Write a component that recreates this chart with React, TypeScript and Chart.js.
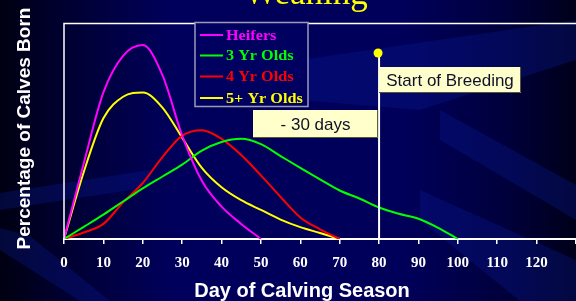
import React, { useEffect, useRef } from 'react';
import { Chart, registerables } from 'chart.js';

Chart.register(...registerables);

// ---- data ----
const days = [0, 5, 10, 15, 20, 25, 30, 35, 40, 45, 50, 55, 60, 65, 70, 75, 80, 85, 90, 95, 100];
const heifers = [0, 3.5, 6.8, 8.5, 9.0, 7.6, 4.8, 2.7, 1.5, 0.7, 0];
const threeYrOlds = [0, 0.56, 1.13, 1.74, 2.35, 2.9, 3.45, 4.1, 4.5, 4.65, 4.4, 3.85, 3.3, 2.77, 2.25, 1.88, 1.46, 1.17, 0.94, 0.52, 0];
const fourYrOlds = [0, 0.3, 0.7, 1.7, 2.6, 3.8, 4.8, 5.05, 4.65, 3.9, 2.95, 1.95, 1.0, 0.45, 0];
const fivePlusYrOlds = [0, 3.1, 5.6, 6.6, 6.8, 6.1, 4.7, 3.3, 2.4, 1.8, 1.35, 0.9, 0.55, 0.28, 0];
const seriesNames = ['Heifers', '3 Yr Olds', '4 Yr Olds', '5+ Yr Olds'];
const seriesColors = ['#ff00ff', '#00ff00', '#ff0000', '#ffff00'];
const xTickLabels = [0, 10, 20, 30, 40, 50, 60, 70, 80, 90, 100, 110, 120];
const titleText = 'Weaning';
const xTitle = 'Day of Calving Season';
const yTitle = 'Percentage of Calves Born';
const breedingDay = 80;
const breedingLabel = 'Start of Breeding';
const offsetLabel = '- 30 days';

const SERIF = '"Liberation Serif", "Times New Roman", serif';
const SANS = '"Liberation Sans", Arial, sans-serif';

const toPoints = (arr: number[]) => arr.map((v, i) => ({ x: days[i], y: v }));

const bgPlugin = {
  id: 'bgPlugin',
  beforeDraw(chart: any) {
    const { ctx, width, height } = chart;
    ctx.save();
    const g = ctx.createLinearGradient(0, 0, width, 0);
    g.addColorStop(0, '#000012');
    g.addColorStop(0.1, '#00002e');
    g.addColorStop(0.3, '#00005c');
    g.addColorStop(0.7, '#00005a');
    g.addColorStop(0.88, '#00003c');
    g.addColorStop(1, '#00001a');
    ctx.fillStyle = g;
    ctx.fillRect(0, 0, width, height);
    // soft diagonal bands
    ctx.globalAlpha = 0.3;
    ctx.fillStyle = '#0a1a9a';
    const band = (pts: number[][]) => {
      ctx.beginPath();
      ctx.moveTo(pts[0][0], pts[0][1]);
      for (let i = 1; i < pts.length; i++) ctx.lineTo(pts[i][0], pts[i][1]);
      ctx.closePath();
      ctx.fill();
    };
    band([[0, 193], [150, 170], [150, 187], [0, 210]]);
    band([[0, 228], [30, 236], [110, 301], [80, 301], [0, 250]]);
    band([[300, 60], [576, 20], [576, 60], [420, 110], [300, 100]]);
    band([[440, 110], [576, 185], [576, 220], [440, 140]]);
    band([[420, 190], [576, 260], [576, 301], [520, 301], [420, 220]]);
    ctx.restore();
  },
  afterDatasetsDraw(chart: any) {
    const { ctx, chartArea, scales } = chart;
    const xs = scales.x;
    const ys = scales.y;
    ctx.save();
    // frame (top + left)
    ctx.strokeStyle = '#ffffff';
    ctx.lineWidth = 1.5;
    ctx.beginPath();
    ctx.moveTo(chartArea.left, ys.getPixelForValue(0));
    ctx.lineTo(chartArea.left, chartArea.top);
    ctx.lineTo(chartArea.right, chartArea.top);
    ctx.stroke();

    // breeding line + dot
    const bx = xs.getPixelForValue(breedingDay);
    ctx.lineWidth = 2;
    ctx.beginPath();
    ctx.moveTo(bx, chartArea.top + 32);
    ctx.lineTo(bx, chartArea.bottom);
    ctx.stroke();
    ctx.fillStyle = '#ffff00';
    ctx.beginPath();
    ctx.arc(bx - 1, chartArea.top + 29.5, 4.5, 0, Math.PI * 2);
    ctx.fill();

    // annotation boxes
    const box = (x1: number, y1: number, x2: number, y2: number, text: string) => {
      ctx.fillStyle = '#ffffcc';
      ctx.fillRect(x1, y1, x2 - x1, y2 - y1);
      ctx.strokeStyle = '#55553a';
      ctx.lineWidth = 1;
      ctx.beginPath();
      ctx.moveTo(x2 - 0.5, y1);
      ctx.lineTo(x2 - 0.5, y2 - 0.5);
      ctx.lineTo(x1, y2 - 0.5);
      ctx.stroke();
      ctx.fillStyle = '#10102a';
      ctx.font = `17px ${SANS}`;
      ctx.textAlign = 'center';
      ctx.textBaseline = 'middle';
      ctx.fillText(text, (x1 + x2) / 2, (y1 + y2) / 2 + 1);
    };
    box(bx, 67, 521, 93, breedingLabel);
    box(253, 110, bx - 1, 138, offsetLabel);

    // legend
    ctx.fillStyle = '#000060';
    ctx.fillRect(195, 22.5, 113, 84);
    ctx.strokeStyle = '#9a9ab8';
    ctx.lineWidth = 1.5;
    ctx.strokeRect(195, 22.5, 113, 84);
    const rowsY = [35, 55.5, 76.5, 98];
    seriesNames.forEach((name, i) => {
      ctx.strokeStyle = seriesColors[i];
      ctx.lineWidth = 2;
      ctx.beginPath();
      ctx.moveTo(200, rowsY[i]);
      ctx.lineTo(223, rowsY[i]);
      ctx.stroke();
      ctx.fillStyle = seriesColors[i];
      ctx.font = `bold 15px ${SERIF}`;
      ctx.textAlign = 'left';
      ctx.textBaseline = 'middle';
      ctx.save();
      ctx.translate(226, rowsY[i] + 1);
      ctx.scale(1.08, 1);
      ctx.fillText(name, 0, 0);
      ctx.restore();
    });

    // title (cut at top)
    ctx.fillStyle = '#ffff00';
    ctx.font = `35px ${SERIF}`;
    ctx.textAlign = 'center';
    ctx.textBaseline = 'alphabetic';
    ctx.fillText(titleText, 306, 4);

    // x title
    ctx.fillStyle = '#ffffff';
    ctx.font = `bold 20px ${SANS}`;
    ctx.textAlign = 'center';
    ctx.textBaseline = 'alphabetic';
    ctx.fillText(xTitle, 302, 297);

    // y title
    ctx.translate(30, 128.5);
    ctx.rotate(-Math.PI / 2);
    ctx.font = `bold 19px ${SANS}`;
    ctx.textAlign = 'center';
    ctx.textBaseline = 'alphabetic';
    ctx.fillText(yTitle, 0, 0);
    ctx.restore();
  },
};

export default function App() {
  const ref = useRef<HTMLCanvasElement | null>(null);
  useEffect(() => {
    if (!ref.current) return;
    const chart = new Chart(ref.current, {
      type: 'line',
      data: {
        datasets: [heifers, threeYrOlds, fourYrOlds, fivePlusYrOlds].map((arr, i) => ({
          label: seriesNames[i],
          data: toPoints(arr),
          borderColor: seriesColors[i],
          backgroundColor: seriesColors[i],
          borderWidth: 2,
          pointRadius: 0,
          cubicInterpolationMode: 'monotone' as const,
          fill: false,
        })),
      },
      options: {
        animation: false,
        responsive: false,
        maintainAspectRatio: false,
        layout: { padding: { left: 64, top: 23.5, right: 0, bottom: 0 } },
        plugins: { legend: { display: false }, tooltip: { enabled: false }, title: { display: false } },
        scales: {
          x: {
            type: 'linear',
            min: 0,
            max: 130,
            afterFit: (s: any) => {
              s.height = 62;
              s.paddingLeft = 0;
              s.paddingRight = 0;
            },
            ticks: {
              stepSize: 10,
              autoSkip: false,
              maxRotation: 0,
              color: '#ffffff',
              padding: 10,
              font: { family: SERIF, size: 15, weight: 'bold' },
              callback: (v: any) => (xTickLabels.includes(Number(v)) ? String(v) : ''),
            },
            grid: { display: true, drawOnChartArea: false, drawTicks: true, tickLength: 5, color: '#ffffff', lineWidth: 1.5 },
            border: { display: true, color: '#ffffff', width: 2 },
          },
          y: { display: false, min: 0, max: 10 },
        },
      },
      plugins: [bgPlugin],
    } as any);
    return () => chart.destroy();
  }, []);
  return (
    <div style={{ position: 'fixed', left: 0, top: 0, width: 576, height: 301, overflow: 'hidden' }}>
      <canvas ref={ref} width={576} height={301} style={{ display: 'block', width: 576, height: 301 }} />
    </div>
  );
}
